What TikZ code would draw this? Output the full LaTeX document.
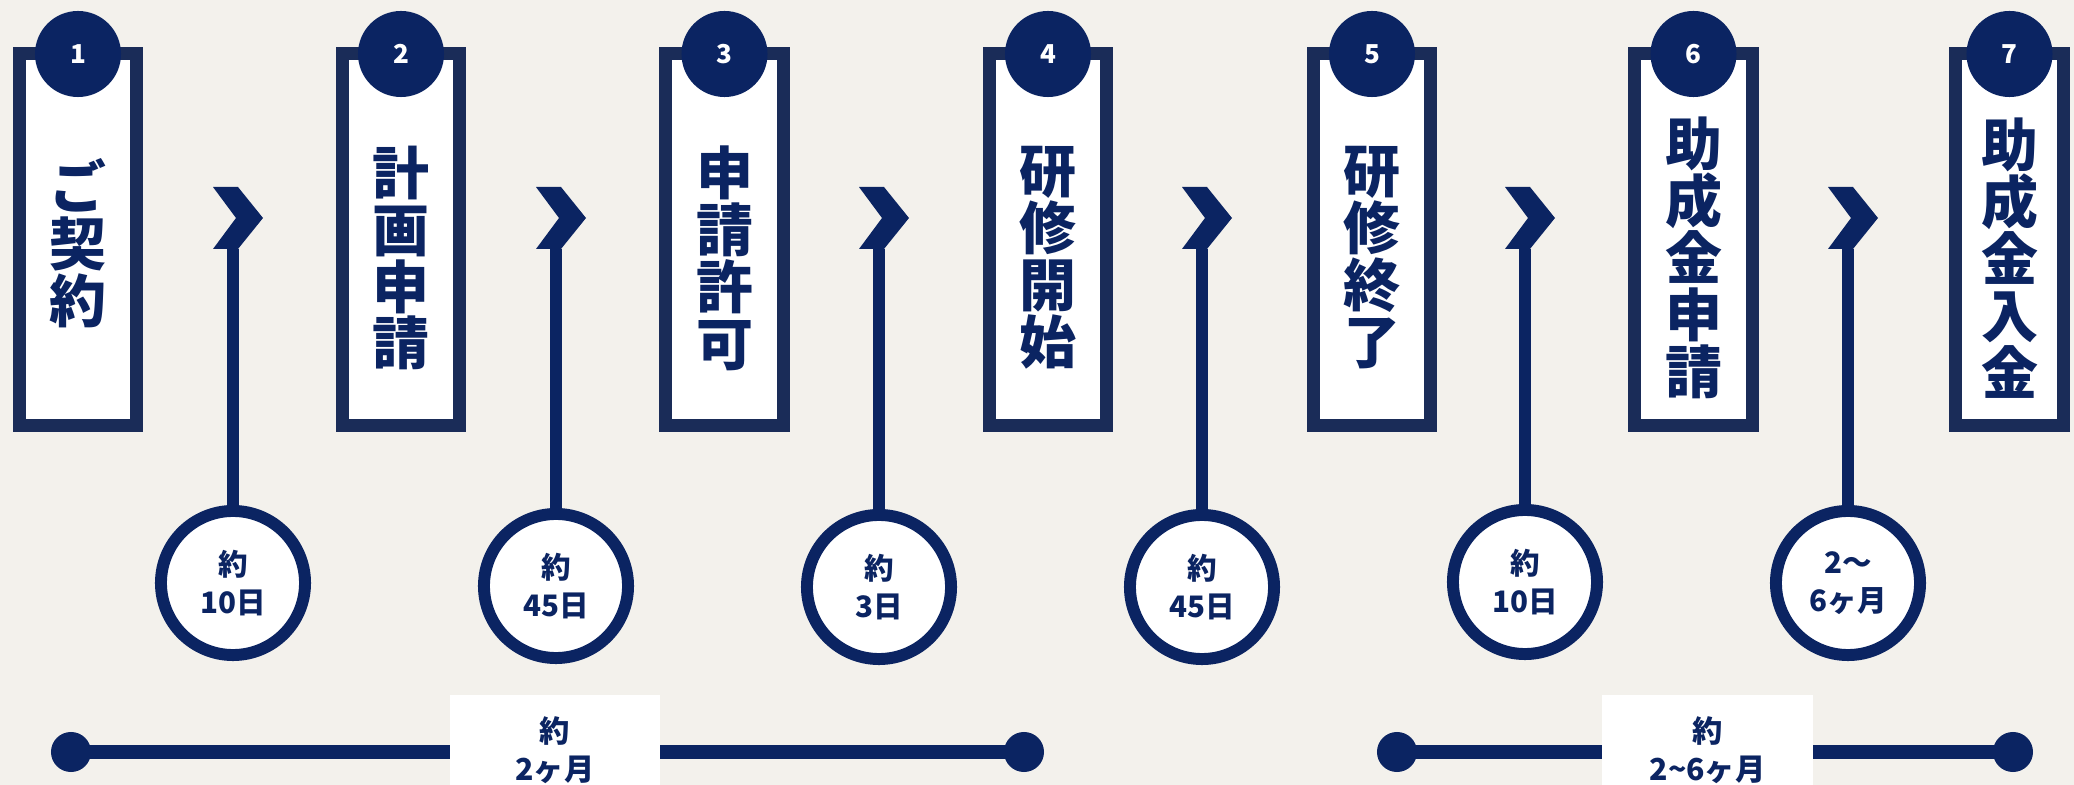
\documentclass[tikz,border=0pt]{standalone}
\usepackage{fontspec}
\setmainfont{Noto Sans CJK JP}
\definecolor{navy}{HTML}{0B2462}
\definecolor{framenavy}{HTML}{1A2C58}
\definecolor{paper}{HTML}{F3F1EC}
\tikzset{
    stepbox/.style={draw=framenavy, line width=3.7pt, fill=white, minimum width=1.17cm, minimum height=3.72cm, inner sep=0pt},
    steptext/.style={text=navy, font=\bfseries\fontsize{16.2}{16.2}\selectfont, align=center, inner sep=0pt},
    numdot/.style={circle, fill=navy, minimum size=0.86cm, inner sep=0pt, text=white, font=\bfseries\fontsize{7.4}{8}\selectfont},
    chevron/.style={fill=navy},
    stem/.style={navy, line width=3.4pt},
    durdot/.style={circle, draw=navy, line width=3.4pt, fill=white, minimum size=1.44cm, inner sep=0pt, align=center, text=navy, font=\bfseries\fontsize{8.4}{10.8}\selectfont},
    enddot/.style={circle, fill=navy, minimum size=0.4cm, inner sep=0pt},
    spanline/.style={navy, line width=3.7pt},
    spanbox/.style={fill=white, minimum width=2.1cm, minimum height=1.1cm, inner sep=0pt, align=center, text=navy, font=\bfseries\fontsize{8.6}{10.8}\selectfont}
}
\begin{document}
\begin{tikzpicture}[x=0.01cm, y=-0.01cm]
    % Fondo
    \fill[paper] (0,0) rectangle (2074,785);
    \useasboundingbox (0,0) rectangle (2074,785);

    % Pasos
    \foreach \i/\x/\w/\ty/\t in {1/78/1.17/243/{ご\\契\\約}, 2/401/1.17/258/{計\\画\\申\\請}, 3/724.5/1.17/258/{申\\請\\許\\可}, 4/1048/1.17/258/{研\\修\\開\\始}, 5/1372/1.17/258/{研\\修\\終\\了}, 6/1693.5/1.17/258/{助\\成\\金\\申\\請}, 7/2009.5/1.08/258/{助\\成\\金\\入\\金}} {
        \node[stepbox, minimum width=\w cm] (box\i) at (\x,239.5) {};
        \node[steptext] (lab\i) at (\x,\ty) {\t};
        \node[numdot] (num\i) at (\x,54) {\i};
    }

    % Flechas y plazos
    \foreach \i/\y/\t in {1/583/{約\\10日}, 2/586/{約\\45日}, 3/587/{約\\3日}, 4/587/{約\\45日}, 5/582/{約\\10日}, 6/583/{2～\\6ヶ月}} {
        \pgfmathsetmacro{\x}{233+323*(\i-1)}
        \coordinate (chev\i) at (\x,249);
        \fill[chevron] (chev\i) ++(-20,-62) -- ++(25,0) -- ++(25,31) -- ++(-25,31) -- ++(-25,0) -- ++(23,-31) -- cycle;
        \node[durdot] (dur\i) at (\x,\y) {\t};
        \draw[stem] (chev\i) -- (dur\i);
    }

    % Periodos
    \node[enddot] (t1a) at (71,752) {};
    \node[enddot] (t1b) at (1024,752) {};
    \node[enddot] (t2a) at (1397,752) {};
    \node[enddot] (t2b) at (2013,752) {};
    \draw[spanline] (t1a.center) -- (t1b.center);
    \draw[spanline] (t2a.center) -- (t2b.center);
    \node[spanbox] (span1) at (555,750) {約\\2ヶ月};
    \node[spanbox] (span2) at (1707.5,750) {約\\2\textasciitilde 6ヶ月};
\end{tikzpicture}
\end{document}
